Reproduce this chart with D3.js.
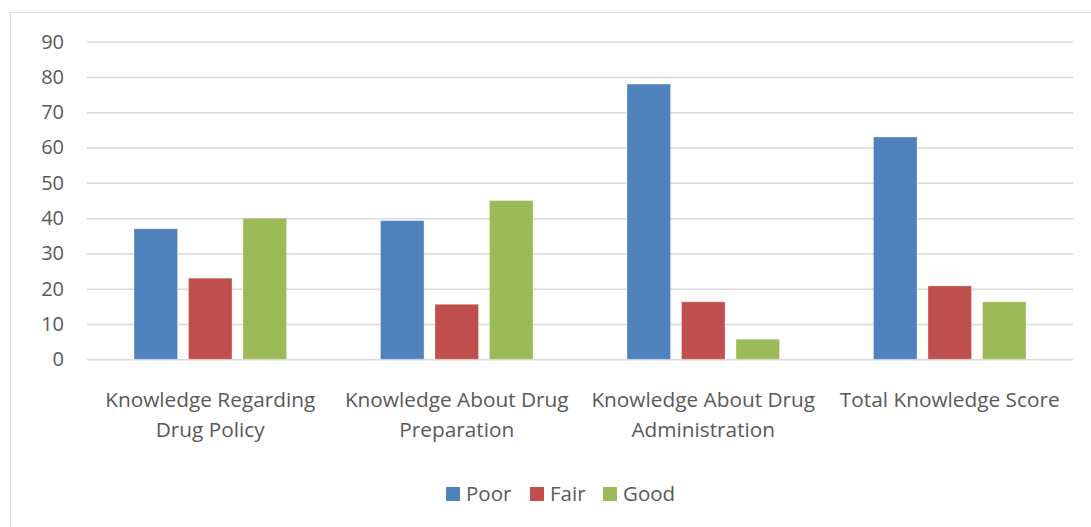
<!DOCTYPE html>
<html>
<head>
<meta charset="utf-8">
<script src="https://cdn.jsdelivr.net/npm/d3@7"></script>
<style>
  body { margin: 0; background: #fff; }
  svg { display: block; font-family: "Open Sans", sans-serif; }
</style>
</head>
<body>
<svg id="chart" width="1091" height="527"></svg>
<script>
const categories = [
  ["Knowledge Regarding", "Drug Policy"],
  ["Knowledge About Drug", "Preparation"],
  ["Knowledge About Drug", "Administration"],
  ["Total Knowledge Score"]
];
const seriesNames = ["Poor", "Fair", "Good"];
const poor = [37, 39.3, 78, 63];
const fair = [23, 15.6, 16.3, 20.8];
const good = [40, 45, 5.7, 16.3];
const yTicks = [0, 10, 20, 30, 40, 50, 60, 70, 80, 90];
const colors = ["#4F81BD", "#C0504D", "#9BBB59"];

const values = [poor, fair, good];
const rows = categories.map((c, i) => ({
  idx: i,
  label: c,
  vals: seriesNames.map((s, j) => ({ key: s, value: values[j][i] }))
}));

const svg = d3.select("#chart");

// chart frame
svg.append("rect")
  .attr("x", 10.5).attr("y", 12.5)
  .attr("width", 1100).attr("height", 600)
  .attr("fill", "none")
  .attr("stroke", "#d9d9d9");

const plot = { left: 87, right: 1073, top: 41.7, bottom: 359.3 };

const x0 = d3.scaleBand()
  .domain(rows.map(d => d.idx))
  .range([plot.left, plot.right])
  .padding(0);

const x1 = d3.scaleBand()
  .domain(seriesNames)
  .range([0, x0.bandwidth()])
  .paddingInner(0.2)
  .paddingOuter(0.862);

const y = d3.scaleLinear()
  .domain([0, 90])
  .range([plot.bottom, plot.top]);

const color = d3.scaleOrdinal().domain(seriesNames).range(colors);

// gridlines + y labels
const yAxis = d3.axisLeft(y)
  .tickValues(yTicks)
  .tickSize(-(plot.right - plot.left))
  .tickPadding(23);

const gy = svg.append("g")
  .attr("transform", `translate(${plot.left},0)`)
  .call(yAxis);
gy.select(".domain").remove();
gy.selectAll(".tick line")
  .attr("stroke", "#d9d9d9")
  .attr("stroke-width", 1.5);
gy.selectAll(".tick text")
  .attr("fill", "#595959")
  .style("font-size", "20px")
  .style("font-family", "'Open Sans', sans-serif");

// bars
const groups = svg.append("g")
  .selectAll("g")
  .data(rows)
  .join("g")
  .attr("transform", d => `translate(${x0(d.idx)},0)`);

groups.selectAll("rect")
  .data(d => d.vals)
  .join("rect")
  .attr("x", d => x1(d.key))
  .attr("y", d => y(d.value))
  .attr("width", x1.bandwidth())
  .attr("height", d => y(0) - y(d.value))
  .attr("fill", d => color(d.key))
  .attr("stroke", "rgba(255,255,255,0.35)")
  .attr("stroke-width", 1);

// category labels
const catLabels = svg.append("g")
  .selectAll("text")
  .data(rows)
  .join("text")
  .attr("x", d => x0(d.idx) + x0.bandwidth() / 2)
  .attr("y", 407)
  .attr("text-anchor", "middle")
  .attr("fill", "#595959")
  .style("font-size", "20.8px");

catLabels.selectAll("tspan")
  .data(d => d.label.map(l => ({ l, x: x0(d.idx) + x0.bandwidth() / 2 })))
  .join("tspan")
  .attr("x", d => d.x)
  .attr("dy", (d, i) => i === 0 ? 0 : 30)
  .text(d => d.l);

// legend
const legendX = [446, 530, 603];
const legend = svg.append("g")
  .selectAll("g")
  .data(seriesNames)
  .join("g")
  .attr("transform", (d, i) => `translate(${legendX[i]},487)`);

legend.append("rect")
  .attr("width", 14).attr("height", 14)
  .attr("fill", d => color(d));

legend.append("text")
  .attr("x", 20)
  .attr("y", 14)
  .attr("fill", "#595959")
  .style("font-size", "20.5px")
  .text(d => d);
</script>
</body>
</html>
